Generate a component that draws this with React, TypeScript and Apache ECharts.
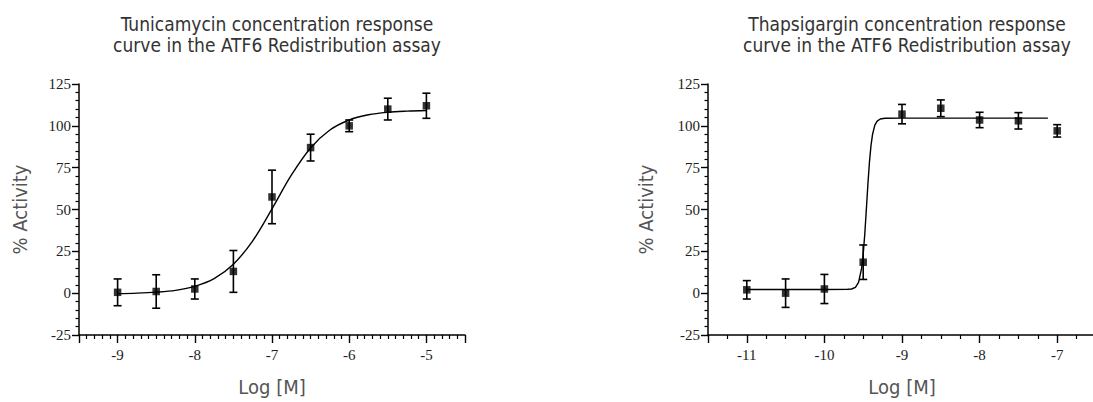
import React, { useEffect, useRef } from "react";
import * as echarts from "echarts";

// Tunicamycin (left panel)
const tuniLogM = [-9, -8.5, -8, -7.5, -7, -6.5, -6, -5.5, -5];
const tuniMean = [0.5, 1, 2.5, 13, 57.5, 87, 100, 110, 112];
const tuniErr = [8, 10, 6, 12.5, 16, 8, 3.5, 6.5, 7.5];
const tuniFitX = [-9, -8.75, -8.5, -8.25, -8, -7.75, -7.5, -7.25, -7, -6.75, -6.5, -6.25, -6, -5.75, -5.5, -5.25, -5];
const tuniFitY = [-0.3, 0, 0.6, 1.7, 4.1, 8.7, 17.3, 31.3, 50.4, 70.5, 86.8, 97.5, 103.5, 106.6, 108.1, 108.8, 109.2];

// Thapsigargin (right panel)
const thapLogM = [-11, -10.5, -10, -9.5, -9, -8.5, -8, -7.5, -7];
const thapMean = [2, 0, 2.5, 18.5, 107, 110.5, 103.5, 103, 97];
const thapErr = [5.5, 8.5, 8.7, 10.3, 5.8, 5, 4.6, 4.9, 3.7];
const thapFitX = [-11, -10, -9.7, -9.65, -9.6, -9.56, -9.52, -9.5, -9.48, -9.46, -9.44, -9.42, -9.4, -9.38, -9.35, -9.32, -9.28, -9.22, -9, -7.12];
const thapFitY = [2.2, 2.2, 2.3, 2.5, 3.5, 6.4, 15.0, 23.3, 35.1, 49.6, 64.7, 78.0, 88.0, 94.8, 100.4, 102.8, 104.1, 104.5, 104.6, 104.6];

const titles = [
  "Tunicamycin concentration response\ncurve in the ATF6 Redistribution assay",
  "Thapsigargin concentration response\ncurve in the ATF6 Redistribution assay",
];
const xName = "Log [M]";
const yName = "% Activity";
const xRanges = [[-9.5, -4.5], [-11.5, -6.5]];
const xMinorSplits = [10, 4];

const SANS = "DejaVu Sans Condensed";
const SERIF = "Liberation Serif";

function errData(xs: number[], m: number[], e: number[]) {
  return xs.map((x, i) => [x, m[i] - e[i], m[i] + e[i]]);
}

function errorSeries(idx: number, data: number[][]) {
  return {
    type: "custom",
    xAxisIndex: idx,
    yAxisIndex: idx,
    encode: { x: 0, y: [1, 2] },
    data,
    z: 3,
    renderItem: (params: any, api: any) => {
      const x = api.value(0);
      const lo = api.coord([x, api.value(1)]);
      const hi = api.coord([x, api.value(2)]);
      const cap = 4;
      const style = { stroke: "#000", lineWidth: 1.6 };
      return {
        type: "group",
        children: [
          { type: "line", shape: { x1: lo[0], y1: lo[1], x2: hi[0], y2: hi[1] }, style },
          { type: "line", shape: { x1: lo[0] - cap, y1: lo[1], x2: lo[0] + cap, y2: lo[1] }, style },
          { type: "line", shape: { x1: hi[0] - cap, y1: hi[1], x2: hi[0] + cap, y2: hi[1] }, style },
        ],
      };
    },
  };
}

export default function App() {
  const ref = useRef<HTMLDivElement>(null);
  useEffect(() => {
    if (!ref.current) return;
    const chart = echarts.init(ref.current, undefined, { renderer: "svg" });
    const grids = [
      { left: 79, top: 84, width: 386, height: 257 },
      { left: 708, top: 84, width: 388, height: 257 },
    ];
    const xAxes = [0, 1].map((i) => ({
      type: "value",
      gridIndex: i,
      min: xRanges[i][0],
      max: xRanges[i][1],
      splitNumber: 5,
      name: xName,
      nameLocation: "middle",
      nameGap: 42,
      nameTextStyle: { fontFamily: SANS, fontSize: 20, color: "#555" },
      axisLine: { show: true, onZero: false, lineStyle: { color: "#000", width: 1.5 } },
      axisTick: { show: true, length: 8, lineStyle: { color: "#000", width: 1.4 } },
      minorTick: { show: true, splitNumber: xMinorSplits[i], length: 4, lineStyle: { color: "#000", width: 1.2 } },
      splitLine: { show: false },
      axisLabel: {
        margin: 12,
        fontFamily: SERIF,
        fontSize: 15,
        color: "#222",
        showMinLabel: false,
        showMaxLabel: false,
        formatter: (v: number) => (Number.isInteger(v) ? String(v) : ""),
      },
    }));
    const yAxes = [0, 1].map((i) => ({
      type: "value",
      gridIndex: i,
      min: -25,
      max: 125,
      interval: 25,
      name: yName,
      nameLocation: "middle",
      nameGap: i === 0 ? 49 : 52,
      nameTextStyle: { fontFamily: SANS, fontSize: 20, color: "#555" },
      axisLine: { show: true, onZero: false, lineStyle: { color: "#000", width: 1.5 } },
      axisTick: { show: true, length: 7, lineStyle: { color: "#000", width: 1.4 } },
      minorTick: { show: true, splitNumber: 5, length: 3.5, lineStyle: { color: "#000", width: 1.2 } },
      splitLine: { show: false },
      axisLabel: { margin: 8, fontFamily: SERIF, fontSize: 15, color: "#222" },
    }));
    const fits = [
      { xs: tuniFitX, ys: tuniFitY, smooth: 0.35 },
      { xs: thapFitX, ys: thapFitY, smooth: false },
    ];
    const pts = [
      { xs: tuniLogM, m: tuniMean, e: tuniErr },
      { xs: thapLogM, m: thapMean, e: thapErr },
    ];
    const series: any[] = [];
    [0, 1].forEach((i) => {
      series.push({
        type: "line",
        xAxisIndex: i,
        yAxisIndex: i,
        data: fits[i].xs.map((x, k) => [x, fits[i].ys[k]]),
        smooth: fits[i].smooth,
        showSymbol: false,
        symbol: "none",
        lineStyle: { color: "#000", width: 1.4 },
        z: 2,
      });
      series.push(errorSeries(i, errData(pts[i].xs, pts[i].m, pts[i].e)));
      series.push({
        type: "scatter",
        xAxisIndex: i,
        yAxisIndex: i,
        symbol: "rect",
        symbolSize: 7.5,
        itemStyle: { color: "#000" },
        data: pts[i].xs.map((x, k) => [x, pts[i].m[k]]),
        z: 4,
      });
    });
    chart.setOption({
      animation: false,
      backgroundColor: "#fff",
      title: [0, 1].map((i) => ({
        text: titles[i],
        left: grids[i].left + grids[i].width / 2,
        top: 8,
        textAlign: "center",
        textStyle: {
          fontFamily: SANS,
          fontSize: 19,
          fontWeight: "normal",
          color: "#333",
          lineHeight: 21,
        },
      })),
      grid: grids,
      xAxis: xAxes,
      yAxis: yAxes,
      series,
    });
    return () => chart.dispose();
  }, []);
  return (
    <div style={{ position: "absolute", left: 0, top: 0, width: 1093, height: 402, overflow: "hidden", background: "#fff" }}>
      <div ref={ref} style={{ width: 1120, height: 402 }} />
    </div>
  );
}
